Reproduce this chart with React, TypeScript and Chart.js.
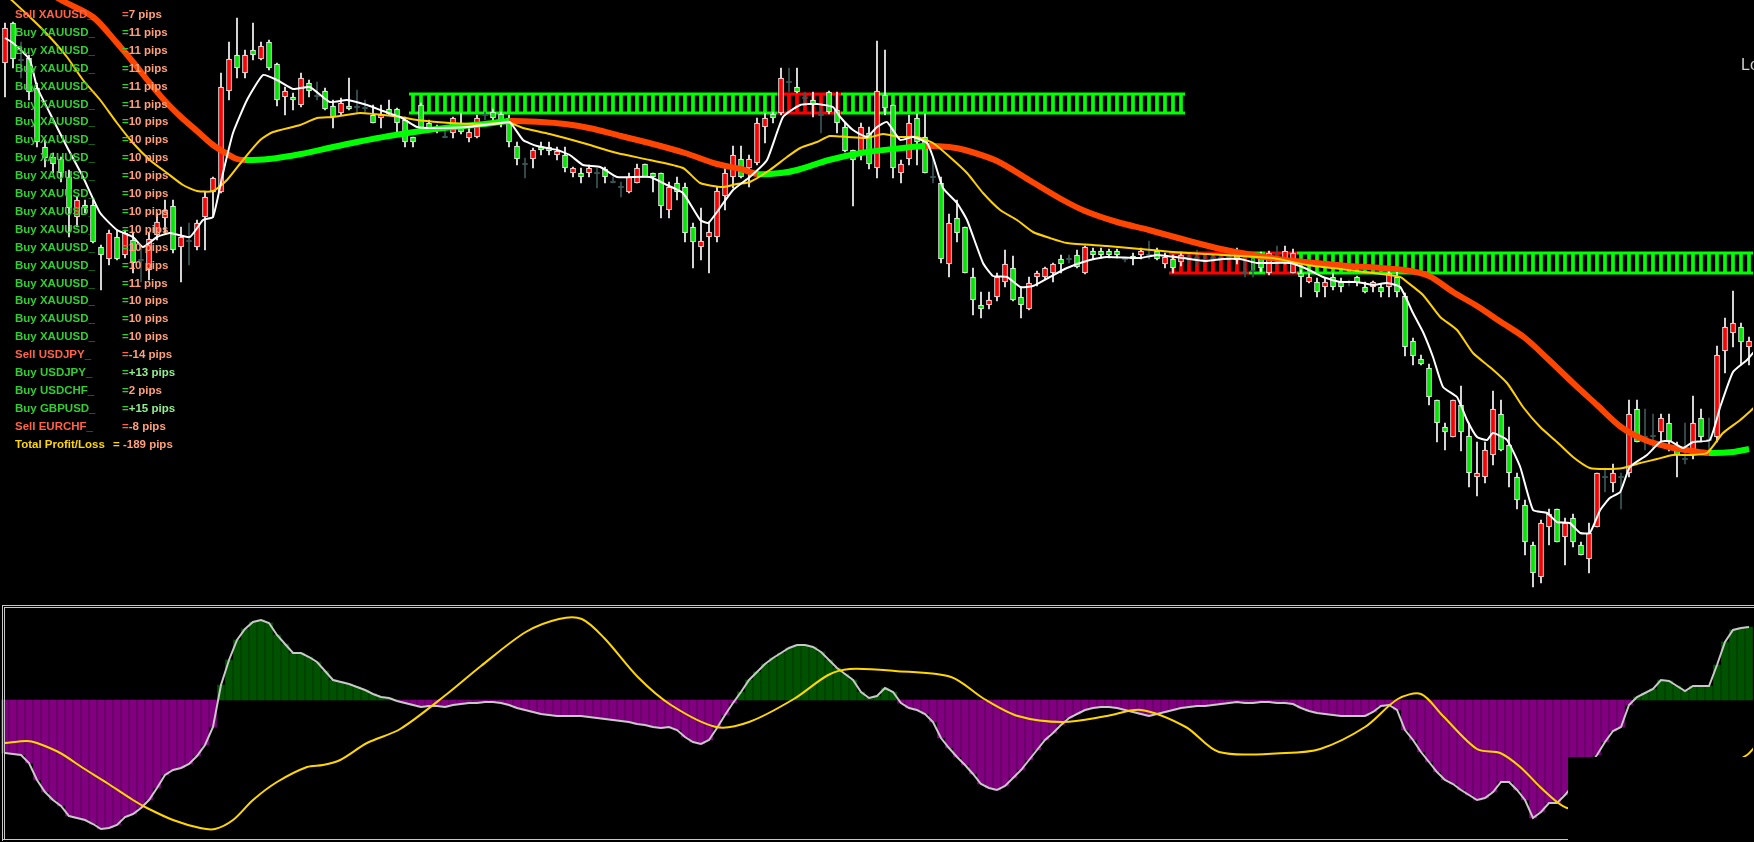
import React, { useEffect, useRef } from "react";
import { Chart, registerables } from "chart.js";

Chart.register(...registerables);

// ---------------- price data (levels, one candle per bar index 0..218) ----------------
const openP = [
  541, 581, 544, 546, 516, 457, 447, 445, 427, 387,
  399, 399, 357, 345, 367, 349, 364, 344, 334, 369,
  386, 398, 357, 363, 357, 387, 412, 412, 513, 549,
  531, 554, 545, 562, 540, 507, 507, 499, 521, 508,
  513, 498, 491, 498, 497, 496, 489, 486, 495, 495,
  484, 467, 499, 481, 477, 467, 471, 479, 466, 467,
  489, 492, 490, 486, 458, 440, 445, 457, 457, 449,
  449, 431, 431, 431, 431, 435, 422, 417, 412, 421,
  440, 431, 431, 394, 421, 417, 377, 357, 367, 367,
  408, 427, 445, 436, 441, 477, 490, 491, 522, 517,
  506, 504, 489, 512, 494, 477, 454, 453, 471, 436,
  509, 499, 431, 445, 486, 467, 427, 421, 340, 386,
  377, 327, 299, 299, 307, 322, 336, 307, 295, 327,
  327, 331, 345, 345, 349, 331, 353, 353, 353, 353,
  345, 348, 349, 349, 353, 340, 345, 342, 346, 346,
  344, 346, 346, 347, 353, 331, 333, 349, 331, 346,
  341, 331, 331, 322, 322, 317, 327, 322, 322, 327,
  317, 317, 317, 317, 327, 308, 263, 245, 236, 204,
  177, 167, 199, 168, 127, 127, 149, 190, 159, 127,
  99, 59, 27, 77, 95, 67, 86, 59, 45, 77,
  127, 121, 127, 131, 195, 167, 168, 172, 181, 157,
  145, 149, 186, 164, 167, 253, 271, 277, 257,
];
const closeP = [
  576, 545, 544, 512, 462, 446, 440, 431, 396, 404,
  396, 362, 349, 371, 345, 371, 341, 344, 365, 382,
  394, 354, 367, 363, 381, 407, 426, 517, 545, 536,
  549, 549, 558, 536, 504, 513, 504, 526, 513, 508,
  495, 487, 501, 495, 497, 496, 481, 489, 490, 481,
  462, 462, 476, 476, 474, 467, 486, 472, 472, 486,
  489, 486, 481, 462, 445, 440, 454, 454, 453, 453,
  436, 436, 427, 436, 431, 427, 422, 417, 427, 436,
  427, 427, 398, 417, 412, 371, 362, 363, 372, 413,
  431, 449, 427, 445, 481, 486, 486, 526, 522, 512,
  506, 500, 489, 492, 481, 453, 444, 477, 440, 513,
  496, 436, 440, 481, 462, 431, 427, 345, 381, 371,
  331, 304, 295, 304, 327, 340, 304, 299, 321, 331,
  336, 340, 340, 345, 337, 357, 349, 349, 349, 349,
  345, 345, 353, 349, 345, 347, 336, 349, 346, 346,
  344, 346, 346, 347, 344, 331, 333, 336, 351, 346,
  353, 351, 327, 327, 312, 322, 317, 317, 322, 322,
  312, 322, 312, 331, 312, 257, 248, 240, 207, 181,
  172, 204, 172, 131, 131, 154, 195, 154, 131, 104,
  62, 31, 81, 90, 62, 81, 62, 49, 71, 131,
  127, 131, 127, 190, 162, 167, 168, 186, 162, 149,
  145, 181, 167, 164, 249, 277, 281, 262, 263,
];
const highP = [
  581, 582, 562, 549, 521, 464, 451, 447, 434, 407,
  404, 404, 359, 374, 374, 374, 371, 357, 371, 391,
  404, 404, 377, 381, 384, 412, 427, 531, 562, 586,
  554, 581, 562, 564, 541, 517, 511, 531, 524, 522,
  516, 504, 506, 526, 514, 504, 499, 499, 504, 496,
  487, 467, 501, 484, 479, 474, 487, 491, 476, 489,
  492, 495, 492, 489, 462, 446, 456, 462, 462, 457,
  457, 437, 436, 439, 436, 437, 427, 422, 431, 440,
  440, 431, 431, 422, 427, 421, 381, 396, 382, 417,
  436, 458, 458, 449, 486, 491, 492, 536, 536, 536,
  512, 512, 496, 513, 512, 481, 454, 481, 477, 563,
  554, 499, 444, 489, 490, 490, 447, 427, 390, 404,
  377, 336, 312, 312, 331, 354, 348, 317, 327, 333,
  337, 341, 349, 349, 354, 358, 356, 356, 355, 355,
  347, 351, 356, 363, 356, 351, 349, 352, 350, 354,
  348, 349, 349, 350, 356, 349, 345, 352, 353, 358,
  358, 355, 334, 331, 326, 326, 331, 326, 324, 328,
  322, 323, 320, 333, 334, 311, 266, 249, 240, 204,
  181, 204, 218, 181, 162, 162, 213, 204, 177, 131,
  104, 62, 84, 95, 95, 86, 90, 62, 81, 131,
  136, 140, 131, 204, 204, 195, 190, 190, 190, 162,
  181, 208, 195, 186, 258, 286, 313, 281, 267,
];
const lowP = [
  507, 536, 526, 504, 457, 437, 431, 422, 367, 377,
  391, 361, 314, 339, 344, 346, 331, 322, 324, 364,
  371, 351, 322, 339, 354, 354, 387, 411, 504, 526,
  526, 544, 544, 534, 498, 489, 494, 497, 507, 504,
  494, 476, 489, 494, 491, 491, 481, 476, 489, 472,
  457, 457, 474, 472, 471, 466, 466, 470, 462, 466,
  484, 484, 477, 457, 439, 426, 436, 449, 449, 444,
  432, 427, 421, 427, 416, 421, 421, 407, 411, 421,
  427, 412, 386, 386, 404, 362, 336, 344, 331, 362,
  394, 416, 426, 417, 439, 461, 481, 489, 512, 511,
  500, 487, 471, 490, 471, 452, 398, 444, 435, 426,
  489, 426, 421, 439, 439, 431, 421, 341, 327, 362,
  331, 289, 286, 295, 303, 317, 303, 286, 294, 318,
  325, 322, 331, 341, 336, 330, 345, 346, 346, 346,
  342, 339, 345, 345, 344, 336, 331, 338, 340, 339,
  340, 342, 342, 343, 340, 327, 327, 332, 329, 339,
  340, 331, 307, 321, 307, 307, 314, 312, 318, 318,
  311, 312, 307, 307, 307, 248, 239, 239, 199, 162,
  154, 167, 153, 117, 108, 121, 139, 153, 117, 95,
  49, 17, 21, 59, 62, 39, 57, 49, 31, 77,
  112, 112, 95, 127, 162, 154, 154, 162, 153, 127,
  140, 145, 162, 149, 162, 231, 257, 239, 239,
];

// ---------------- moving averages: [bar index, level] ----------------
const fastMA: [number, number][] = [
  [0, 566], [1, 561], [3.1, 544], [4, 517], [5.6, 491], [7.75, 457], [9.75, 427], [11.9, 391], [14, 374], [16, 367],
  [17.25, 357], [19, 367], [20.6, 371], [23.1, 367], [24.75, 384], [26, 387], [27.25, 431], [28.5, 471], [30.25, 504], [32.25, 529],
  [34, 524], [36, 515], [38.1, 517], [40.6, 502], [42.75, 504], [45.25, 499], [47.25, 493], [49.4, 487], [51.5, 477], [53.5, 476],
  [57.75, 477], [61.9, 481], [63.1, 482], [64.75, 464], [66.5, 458], [69, 454], [70.6, 449], [72.25, 439], [74.4, 437], [76.5, 427],
  [80.6, 427], [82.75, 419], [84.75, 411], [86.9, 384], [87.9, 381], [89, 392], [91, 414], [93.1, 427], [95.25, 444], [97.25, 487],
  [99.4, 499], [101.5, 500], [103.5, 497], [104.4, 487], [106, 474], [107.75, 467], [109, 477], [110.25, 482], [111.9, 464], [113.5, 467],
  [115.25, 461], [116, 447], [117.25, 416], [119, 401], [120.25, 384], [122.25, 341], [123.5, 328], [125.25, 327], [126.9, 317], [128.5, 318],
  [130.6, 327], [132.75, 336], [135.6, 344], [137.75, 347], [141.9, 346], [144, 349], [148.1, 345], [150.25, 343], [152.25, 345], [154.4, 345],
  [156.5, 341], [160.6, 341], [162.75, 335], [164.75, 327], [166.9, 322], [169, 322], [171, 319], [172.75, 321], [174.4, 317], [176, 291],
  [177.25, 272], [178.5, 247], [179.75, 217], [181.5, 207], [182.75, 184], [184, 167], [185.25, 164], [186, 171], [187.75, 164], [189.4, 137],
  [191, 94], [192.75, 91], [194, 82], [195.6, 81], [196.9, 71], [198.1, 71], [199.4, 94], [200.6, 106], [201.9, 112], [203.1, 137],
  [205.25, 149], [206.9, 162], [208.1, 163], [209.75, 156], [211, 162], [213.1, 164], [214.4, 197], [216, 232], [217.75, 244], [218.6, 252],
];
const midMA: [number, number][] = [
  [0, 610], [3.5, 584], [5.6, 567], [7.75, 547], [9.75, 524], [11.9, 504], [14, 481], [16, 461], [18.1, 444], [20.25, 431],
  [22.25, 419], [24, 413], [26, 413], [27.75, 424], [29.75, 444], [31.9, 464], [33.5, 472], [36.9, 479], [39, 486], [41, 487],
  [44.4, 491], [47.25, 489], [49.4, 487], [51.5, 484], [55.6, 481], [59.75, 480], [63.1, 481], [64.75, 476], [68.1, 470], [72.25, 461],
  [76.5, 451], [80.6, 444], [84.75, 436], [86.9, 421], [89.75, 417], [91.5, 420], [93.1, 422], [95.6, 434], [97.75, 447], [99.4, 456],
  [101.5, 462], [103.1, 468], [105.25, 467], [107.75, 466], [109.75, 470], [111.9, 467], [114, 467], [116, 461], [118.1, 447], [120.25, 431],
  [122.25, 411], [124.4, 394], [126.5, 384], [128.5, 372], [130.6, 366], [132.75, 361], [137.75, 358], [141.9, 355], [146, 352], [150.25, 350],
  [154.4, 348], [158.5, 346], [162.75, 339], [166.9, 335], [171, 331], [174.4, 327], [175.25, 322], [177.25, 309], [179.4, 287], [181.5, 274],
  [183.5, 251], [185.6, 237], [187.75, 221], [189.75, 197], [191.9, 177], [194, 162], [196, 147], [198.1, 136], [200.25, 135], [202.25, 136],
  [204.4, 141], [206.5, 145], [208.5, 149], [210.6, 149], [212.75, 151], [214.75, 171], [216.9, 184], [218.6, 196],
];
const slowMA: [number, number][] = [
  [0, 639], [7, 604], [11, 587], [14, 561], [16, 542], [18, 522], [20, 503], [22, 487], [24, 473], [26, 459],
  [28, 449], [29, 445], [30, 444], [33, 445], [37, 450], [41, 457], [44, 462], [48, 468], [52, 473], [56, 477],
  [60, 480], [63, 483], [67, 482], [70, 480], [73, 476], [77, 468], [81, 460], [85, 451], [89, 440], [92, 435],
  [94, 430], [97, 431], [99, 434], [103, 444], [107, 451], [111, 455], [115, 458], [118, 457], [120, 454], [124, 443],
  [128, 424], [132, 405], [135, 393], [139, 382], [143, 374], [148, 363], [152, 355], [156, 349], [160, 344], [164, 341],
  [168, 338], [172, 336], [175, 334], [178, 328], [181, 312], [184, 298], [187, 282], [190, 266], [193, 244], [196, 221],
  [199, 199], [202, 177], [205, 164], [208, 157], [211, 153], [213, 151], [216, 152], [218, 155],
];

// ---------------- supply / demand zones ----------------
const zoneStart = [51, 97, 105, 146, 156, 158, 162];
const zoneEnd = [96, 104, 147, 155, 157, 161, 218];
const zoneLow = [491, 491, 491, 331, 331, 331, 331];
const zoneHigh = [510, 510, 510, 351, 351, 351, 351];
const zoneSide = ["buy", "sell", "buy", "sell", "buy", "sell", "buy"];

// ---------------- oscillator (one value per bar) and its signal line ----------------
const oscHist = [
  -53, -54, -55, -63, -80, -92, -100, -106, -116, -118,
  -120, -124, -129, -128, -125, -117, -114, -108, -100, -88,
  -75, -70, -68, -64, -56, -45, -27, 15, 40, 60,
  71, 78, 80, 77, 65, 56, 47, 47, 43, 38,
  29, 20, 18, 16, 13, 10, 6, 3, 2, -1,
  -3, -5, -7, -6, -6, -7, -5, -4, -3, -3,
  -2, -2, -3, -5, -8, -10, -12, -14, -15, -16,
  -16, -16, -16, -17, -18, -19, -20, -21, -22, -24,
  -25, -27, -28, -27, -30, -37, -42, -44, -40, -28,
  -15, -3, 8, 20, 28, 36, 42, 47, 52, 55,
  55, 53, 48, 40, 32, 26, 20, 8, 2, 4,
  12, 8, -3, -8, -10, -14, -22, -38, -48, -57,
  -65, -74, -84, -88, -90, -86, -78, -70, -60, -50,
  -40, -33, -25, -18, -14, -10, -8, -7, -7, -8,
  -10, -12, -14, -16, -14, -12, -10, -8, -7, -6,
  -6, -5, -4, -3, -2, -3, -3, -2, -2, -3,
  -3, -4, -8, -11, -13, -14, -15, -16, -16, -16,
  -16, -12, -6, -5, -10, -30, -40, -52, -62, -72,
  -80, -84, -90, -95, -100, -98, -92, -82, -82, -90,
  -100, -118, -112, -103, -103, -95, -85, -75, -65, -55,
  -42, -31, -27, -5, 3, 7, 11, 20, 19, 14,
  9, 14, 14, 14, 35, 58, 70, 72, 73,
];
const oscSignal: [number, number][] = [
  [0, -43], [2.75, -41], [4, -43], [6.9, -53], [9.75, -68], [12.75, -83], [16, -100], [17.75, -108], [21, -120], [24.4, -128],
  [26.25, -129], [28.5, -120], [31, -100], [34, -82], [37.75, -67], [39.75, -65], [41.9, -60], [45.25, -43], [49.4, -29], [55.25, 6],
  [59.5, 34], [65.1, 68], [69.25, 81], [72.1, 81], [74.9, 62], [79.1, 23], [83.25, -5], [88.9, -27], [93, -22], [98.6, 1],
  [102.9, 25], [105.6, 31], [111.25, 29], [118.25, 23], [122.4, 1], [126.6, -16], [132.25, -22], [137.75, -16], [142, -10], [147.6, -27],
  [151.75, -52], [160.1, -53], [164.4, -49], [170, -27], [174.1, 1], [177, 6], [179.75, -16], [184, -49], [186.9, -53], [189.4, -67],
  [191.9, -87], [194, -102], [195.25, -108], [199.4, -115], [205.6, -105], [211.9, -85], [215.6, -65], [217.75, -55], [218.6, -48],
];

// ---------------- trade panel text ----------------
const tradeLabels = [
  "Sell XAUUSD_",
  "Buy XAUUSD_", "Buy XAUUSD_", "Buy XAUUSD_", "Buy XAUUSD_", "Buy XAUUSD_", "Buy XAUUSD_",
  "Buy XAUUSD_", "Buy XAUUSD_", "Buy XAUUSD_", "Buy XAUUSD_", "Buy XAUUSD_", "Buy XAUUSD_",
  "Buy XAUUSD_", "Buy XAUUSD_", "Buy XAUUSD_", "Buy XAUUSD_", "Buy XAUUSD_", "Buy XAUUSD_",
  "Sell USDJPY_", "Buy USDJPY_", "Buy USDCHF_", "Buy GBPUSD_", "Sell EURCHF_",
];
const tradePips = [
  "7",
  "11", "11", "11", "11", "11", "10",
  "10", "10", "10", "10", "10", "10",
  "10", "10", "11", "10", "10", "10",
  "-14", "+13", "2", "+15", "-8",
];
const totalLabel = "Total Profit/Loss";
const totalPips = "-189";

const N_BARS = openP.length;
const W = 1754;
const MAIN_H = 604;
const OSC_TOP = 609;
const OSC_H = 230;

const BULL = "#FF0000";
const BEAR = "#00E800";
const DOJI = "#3A5757";
const LIME = "#00FF00";

export default function App() {
  const mainRef = useRef<HTMLCanvasElement | null>(null);
  const oscRef = useRef<HTMLCanvasElement | null>(null);

  useEffect(() => {
    document.body.style.margin = "0";
    document.body.style.background = "#000";
    const idx = openP.map((_, i) => i);

    const datasets: any[] = [];
    // zones (hatched boxes)
    zoneStart.forEach((s, z) => {
      const col = zoneSide[z] === "buy" ? LIME : "#FF0000";
      const pts = [];
      for (let i = s; i <= zoneEnd[z]; i++) pts.push({ x: i, y: [zoneLow[z], zoneHigh[z]] });
      datasets.push({
        type: "bar", data: pts, backgroundColor: col, borderWidth: 0,
        barThickness: 3, grouped: false, order: 20,
      });
      [zoneLow[z], zoneHigh[z]].forEach((lv) => {
        datasets.push({
          type: "line",
          data: [{ x: s - 0.5, y: lv }, { x: zoneEnd[z] + 0.5, y: lv }],
          borderColor: col, borderWidth: 3, pointRadius: 0, order: 19,
        });
      });
    });

    const candleCol = idx.map((i) =>
      closeP[i] > openP[i] ? BULL : closeP[i] < openP[i] ? BEAR : DOJI
    );
    datasets.push({
      type: "bar",
      data: idx.map((i) => ({ x: i, y: [lowP[i], highP[i]] })),
      backgroundColor: idx.map((i) => (openP[i] === closeP[i] ? DOJI : "#FFFFFF")),
      borderWidth: 0, barThickness: 1, grouped: false, order: 11,
    });
    datasets.push({
      type: "bar",
      data: idx.map((i) =>
        openP[i] === closeP[i]
          ? { x: i, y: [openP[i] - 0.6, openP[i] + 0.6] }
          : { x: i, y: [openP[i], closeP[i]] }
      ),
      backgroundColor: candleCol,
      borderColor: idx.map((i) => (openP[i] === closeP[i] ? DOJI : "#FFFFFF")),
      borderWidth: 1, borderSkipped: false, barThickness: 5, grouped: false, order: 10,
    });
    datasets.push({
      type: "line",
      data: slowMA.map(([x, y]) => ({ x, y })),
      borderWidth: 6, pointRadius: 0, tension: 0.3, borderJoinStyle: "round",
      borderColor: "#FF4500",
      segment: {
        borderColor: (ctx: any) => (ctx.p1.parsed.y >= ctx.p0.parsed.y ? LIME : "#FF4500"),
      },
      order: 3,
    });
    datasets.push({
      type: "line", data: midMA.map(([x, y]) => ({ x, y })),
      borderColor: "#FFD000", borderWidth: 2, pointRadius: 0, tension: 0.2, order: 2,
    });
    datasets.push({
      type: "line", data: fastMA.map(([x, y]) => ({ x, y })),
      borderColor: "#FFFFFF", borderWidth: 2, pointRadius: 0, tension: 0.15, order: 1,
    });

    const common: any = {
      responsive: false,
      animation: false,
      devicePixelRatio: 1,
      events: [],
      layout: { padding: { left: 1, right: 1, top: 0, bottom: 0 } },
      plugins: { legend: { display: false }, tooltip: { enabled: false } },
    };

    const main = new Chart(mainRef.current as HTMLCanvasElement, {
      type: "bar",
      data: { datasets },
      options: {
        ...common,
        scales: {
          x: { type: "linear", min: -0.5, max: N_BARS - 0.5, display: false, offset: false },
          y: { type: "linear", min: 0, max: MAIN_H, display: false },
        },
      },
    } as any);

    const osc = new Chart(oscRef.current as HTMLCanvasElement, {
      type: "bar",
      data: {
        datasets: [
          {
            type: "bar",
            data: oscHist.map((v, i) => ({ x: i, y: v })),
            backgroundColor: oscHist.map((v) => (v >= 0 ? "#005200" : "#800080")),
            borderWidth: 0, barThickness: 7, grouped: false, order: 3,
          },
          {
            type: "line",
            data: oscHist.map((v, i) => ({ x: i, y: v })),
            borderColor: "#C8C8C8", borderWidth: 2, pointRadius: 0, tension: 0, order: 2,
          },
          {
            type: "line",
            data: oscSignal.map(([x, y]) => ({ x, y })),
            borderColor: "#FFD700", borderWidth: 2, pointRadius: 0, tension: 0.3, order: 1,
          },
        ] as any,
      },
      options: {
        ...common,
        scales: {
          x: { type: "linear", min: -0.5, max: N_BARS - 0.5, display: false, offset: false },
          y: { type: "linear", min: -139, max: 91, display: false },
        },
      },
    } as any);

    return () => {
      main.destroy();
      osc.destroy();
    };
  }, []);

  const font = 'bold 11.5px "Liberation Sans", Arial, sans-serif';
  const rowTop = (k: number) => 7 + k * 17.9;
  const abs: any = { position: "absolute" };

  return (
    <div style={{ position: "fixed", left: 0, top: 0, width: W, height: 842, background: "#000", overflow: "hidden" }}>
      <canvas ref={mainRef} width={W} height={MAIN_H} style={{ ...abs, left: 0, top: 0, width: W, height: MAIN_H }} />
      <canvas ref={oscRef} width={W} height={OSC_H} style={{ ...abs, left: 0, top: OSC_TOP, width: W, height: OSC_H }} />
      {/* panel frames */}
      <div style={{ ...abs, left: 2, top: 605, width: W, height: 1, background: "#C8C8C8" }} />
      <div style={{ ...abs, left: 4, top: 607, width: W, height: 1, background: "#C8C8C8" }} />
      <div style={{ ...abs, left: 2, top: 605, width: 1, height: 236, background: "#C8C8C8" }} />
      <div style={{ ...abs, left: 4, top: 607, width: 1, height: 232, background: "#C8C8C8" }} />
      <div style={{ ...abs, left: 2, top: 839, width: W, height: 1, background: "#C8C8C8" }} />
      <div style={{ ...abs, left: 1568, top: 757, width: 186, height: 85, background: "#000" }} />
      {/* trade list */}
      {tradeLabels.map((t, k) => {
        const sell = t.startsWith("Sell");
        const lc = sell ? "#FF6347" : "#32CD32";
        const vc = tradePips[k].startsWith("+") ? "#90EE90" : "#FFA07A";
        return (
          <React.Fragment key={k}>
            <div style={{ ...abs, left: 15, top: rowTop(k), font, lineHeight: "15px", color: lc, whiteSpace: "pre" }}>{t}</div>
            <div style={{ ...abs, left: 122, top: rowTop(k), font, lineHeight: "15px", whiteSpace: "pre" }}>
              <span style={{ color: lc }}>=</span>
              <span style={{ color: vc }}>{tradePips[k] + " pips"}</span>
            </div>
          </React.Fragment>
        );
      })}
      <div style={{ ...abs, left: 15, top: rowTop(tradeLabels.length), font, lineHeight: "15px", color: "#FFD700", whiteSpace: "pre" }}>{totalLabel}</div>
      <div style={{ ...abs, left: 113, top: rowTop(tradeLabels.length), font, lineHeight: "15px", whiteSpace: "pre" }}>
        <span style={{ color: "#FFD700" }}>= </span>
        <span style={{ color: "#FFA07A" }}>{totalPips + " pips"}</span>
      </div>
      <div style={{ ...abs, left: 1741, top: 56, font: '16px "Liberation Sans", Arial, sans-serif', color: "#D0D0D0", whiteSpace: "pre" }}>Lo</div>
    </div>
  );
}
